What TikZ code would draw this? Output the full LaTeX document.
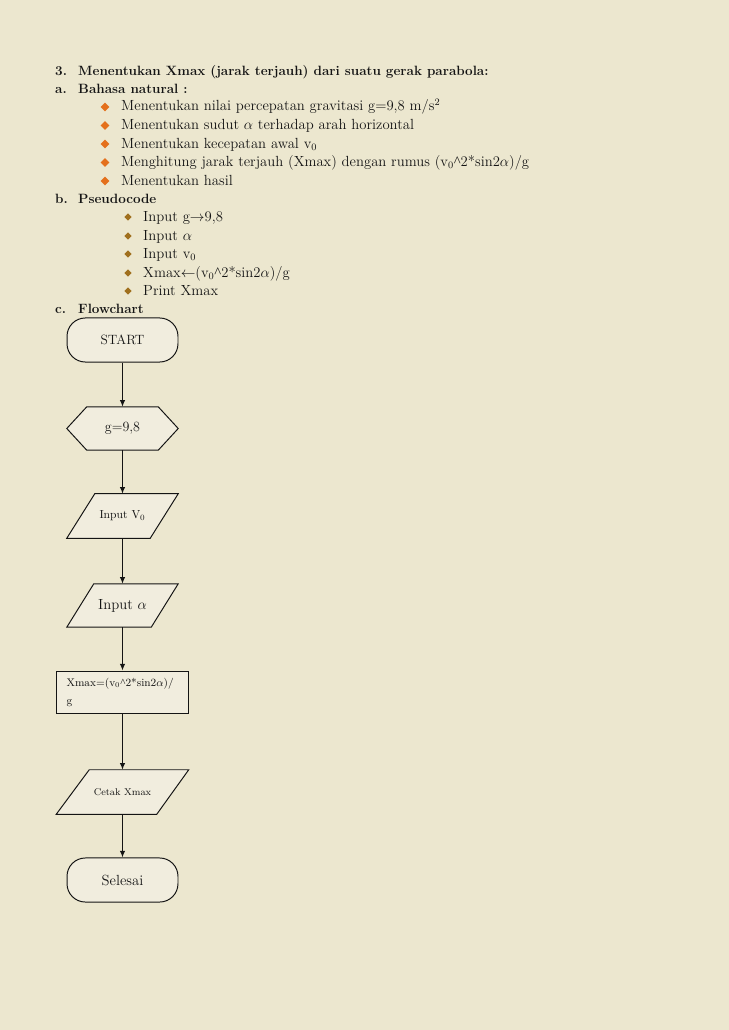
\documentclass[tikz,border=0pt]{standalone}
\usepackage{fontspec}
\usetikzlibrary{calc,arrows.meta,shapes.geometric,backgrounds}
\newfontfamily\caretfont{Liberation Serif}
\definecolor{pagebg}{RGB}{236,231,207}
\definecolor{boxfill}{RGB}{241,237,222}
\definecolor{bulleta}{RGB}{228,112,28}
\definecolor{bulletb}{RGB}{160,112,30}
\definecolor{ink}{RGB}{20,20,20}
\newcommand{\crt}{{\caretfont\symbol{94}}}
\tikzset{
  txt/.style={anchor=base west, inner sep=0pt, text=ink, font=\fontsize{12}{14}\selectfont},
  hd/.style={anchor=base west, inner sep=0pt, text=ink, font=\fontsize{11}{14}\selectfont\bfseries},
  bula/.style={diamond, fill=bulleta, inner sep=0pt, minimum size=7.5pt},
  bulb/.style={diamond, fill=bulletb, inner sep=0pt, minimum size=6pt},
  frame/.style={draw=ink, line width=0.8pt, fill=boxfill},
  holder/.style={rectangle, inner sep=0pt, text=ink, minimum width=90.7pt, minimum height=36pt},
  flow/.style={draw=ink, line width=0.9pt, -{Latex[length=5.5pt,width=4.5pt]}},
}
\begin{document}
\begin{tikzpicture}[x=0.8173pt,y=-0.8173pt]
\useasboundingbox (0,0) rectangle (728,1030);
\begin{pgfonlayer}{background}
\fill[pagebg] (-4,-4) rectangle (732,1034);
\end{pgfonlayer}

% headings
\node[hd] (n3) at (55,75) {3.};
\node[hd] (t3) at (78,75) {Menentukan Xmax (jarak terjauh) dari suatu gerak parabola:};
\node[hd] (na) at (55,93) {a.};
\node[hd] (ta) at (78,93) {Bahasa natural :};

% natural language bullets
\foreach \i/\yy/\tx in {1/111/{Menentukan nilai percepatan gravitasi g=9,8 m/s\textsuperscript{2}},
                        2/129.5/{Menentukan sudut $\alpha$ terhadap arah horizontal},
                        3/148/{Menentukan kecepatan awal v\textsubscript{0}},
                        4/166.5/{Menghitung jarak terjauh (Xmax) dengan rumus (v\textsubscript{0}\crt2*sin2$\alpha$)/g},
                        5/185/{Menentukan hasil}}{
  \node[bula] (ba\i) at (105,\yy-4) {};
  \node[txt] (la\i) at (121,\yy) {\tx};
}

\node[hd] (nb) at (55,203) {b.};
\node[hd] (tb) at (78,203) {Pseudocode};

\foreach \i/\yy/\tx in {1/221/{Input g$\rightarrow$9,8},
                        2/240/{Input $\alpha$},
                        3/258/{Input v\textsubscript{0}},
                        4/277/{Xmax$\leftarrow$(v\textsubscript{0}\crt2*sin2$\alpha$)/g},
                        5/295/{Print Xmax}}{
  \node[bulb] (bb\i) at (128,\yy-4) {};
  \node[txt] (lb\i) at (143,\yy) {\tx};
}

\node[hd] (nc) at (55,313) {c.};
\node[hd] (tc) at (78,313) {Flowchart};

% flowchart
\node[holder, frame, rounded corners=15pt, font=\fontsize{11}{13}\selectfont] (start) at (122.5,340) {START};
\node[holder, minimum height=35.1pt, font=\fontsize{11.5}{13}\selectfont] (gval) at (122.5,428.5) {g=9,8};
\node[holder, font=\fontsize{9.5}{11}\selectfont] (inv) at (122.5,516) {Input V\textsubscript{0}};
\node[holder, minimum height=35.1pt, font=\fontsize{12}{14}\selectfont] (ina) at (122.5,605.5) {Input $\alpha$};
\node[rectangle, frame, text=ink, minimum width=107.9pt, minimum height=35.1pt,
      text width=91.5pt, inner xsep=8.2pt, inner ysep=0pt, align=left,
      font=\fontsize{9}{15.5}\selectfont] (calc) at (122.5,692.5)
      {Xmax=(v\textsubscript{0}\crt2*sin2$\alpha$)/\\g};
\node[holder, minimum width=107.9pt, font=\fontsize{8}{10}\selectfont] (out) at (122.5,792) {Cetak Xmax};
\node[holder, frame, rounded corners=15pt, font=\fontsize{12}{14}\selectfont] (stop) at (122.5,880) {Selesai};

\begin{pgfonlayer}{background}
\path[frame] (gval.west) -- ($(gval.north west)+(20,0)$) -- ($(gval.north east)+(-20,0)$)
   -- (gval.east) -- ($(gval.south east)+(-20,0)$) -- ($(gval.south west)+(20,0)$) -- cycle;
\path[frame] ($(inv.north west)+(28,0)$) -- (inv.north east) -- ($(inv.south east)+(-28,0)$) -- (inv.south west) -- cycle;
\path[frame] ($(ina.north west)+(27,0)$) -- (ina.north east) -- ($(ina.south east)+(-27,0)$) -- (ina.south west) -- cycle;
\path[frame] ($(out.north west)+(33,0)$) -- (out.north east) -- ($(out.south east)+(-32,0)$) -- (out.south west) -- cycle;
\end{pgfonlayer}

\draw[flow] (start) -- (gval);
\draw[flow] (gval) -- (inv);
\draw[flow] (inv) -- (ina);
\draw[flow] (ina) -- (calc);
\draw[flow] (calc) -- (out);
\draw[flow] (out) -- (stop);
\end{tikzpicture}
\end{document}
